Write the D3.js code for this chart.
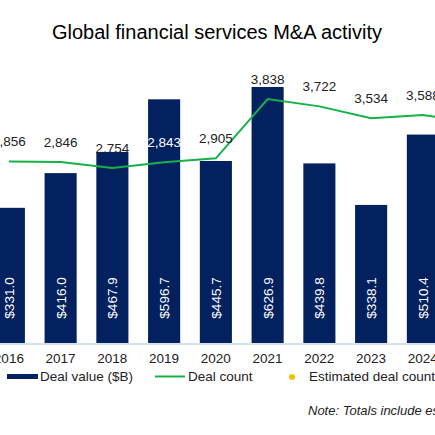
<!DOCTYPE html><html><head><script src="https://d3js.org/d3.v7.min.js"></script>
<style>body{margin:0;background:#fff}</style></head><body><svg id="c" width="435" height="435"></svg>
<script>
const years=["2016","2017","2018","2019","2020","2021","2022","2023","2024","2025"];
const values=[331.0,416.0,467.9,596.7,445.7,626.9,439.8,338.1,510.4];
const counts=[2856,2846,2754,2843,2905,3838,3722,3534,3588,3460];
const countLabels=["2,856","2,846","2,754","2,843","2,905","3,838","3,722","3,534","3,588"];
const svg=d3.select("#c"),F="Liberation Sans, Arial, sans-serif";
const x=d3.scaleBand().domain(years).range([-17,500.5]).paddingInner(0.38).paddingOuter(0.19);
const base=343;
const yv=d3.scaleLinear().domain([0,626.9]).range([base,87]);
const yc=d3.scaleLinear().domain([0,3838]).range([base,99]);
svg.append("text").attr("x",217).attr("y",39).attr("text-anchor","middle").attr("font-family",F).attr("font-size",20).text("Global financial services M&A activity");
svg.selectAll("rect.b").data(values).join("rect").attr("fill","#03205f")
 .attr("x",(d,i)=>x(years[i])).attr("width",x.bandwidth()).attr("y",d=>yv(d)).attr("height",d=>base-yv(d));
svg.append("line").attr("x1",0).attr("x2",435).attr("y1",base+1).attr("y2",base+1).attr("stroke","#c9d9ee").attr("stroke-width",1.5);
svg.selectAll("text.v").data(values).join("text").attr("fill","#fff").attr("font-family",F).attr("font-size",13.5)
 .attr("text-anchor","middle").attr("transform",(d,i)=>`translate(${x(years[i])+x.bandwidth()/2+5},298) rotate(-90)`).text(d=>"$"+d.toFixed(1));
const cx=(d,i)=>x(years[i])+x.bandwidth()/2;
svg.append("path").datum(counts).attr("fill","none").attr("stroke","#17b14a").attr("stroke-width",2)
 .attr("d",d3.line().x(cx).y(d=>yc(d)));
svg.selectAll("text.c").data(countLabels).join("text").attr("font-family",F).attr("font-size",13.5)
 .attr("fill",(d,i)=>i==3?"#fff":"#222").attr("text-anchor","middle")
 .attr("x",(d,i)=>cx(d,i)).attr("y",(d,i)=>yc(counts[i])-15).text(d=>d);
svg.selectAll("text.y").data(years).join("text").attr("font-family",F).attr("font-size",13.5).attr("fill","#222")
 .attr("text-anchor","middle").attr("x",(d,i)=>cx(d,i)).attr("y",363).text(d=>d);
const lg=svg.append("g").attr("font-family",F).attr("font-size",13.5).attr("fill","#222");
lg.append("rect").attr("x",7).attr("y",374).attr("width",31).attr("height",5).attr("fill","#03205f");
lg.append("text").attr("x",40).attr("y",381).text("Deal value ($B)");
lg.append("line").attr("x1",155).attr("x2",185).attr("y1",376.5).attr("y2",376.5).attr("stroke","#17b14a").attr("stroke-width",2);
lg.append("text").attr("x",188).attr("y",381).text("Deal count");
lg.append("circle").attr("cx",292).attr("cy",377).attr("r",3).attr("fill","#f5c000");
lg.append("text").attr("x",309).attr("y",381).text("Estimated deal count");
svg.append("text").attr("x",308).attr("y",415).attr("font-family",F).attr("font-size",13).attr("font-style","italic").attr("fill","#222").text("Note: Totals include estimates");
</script></body></html>
